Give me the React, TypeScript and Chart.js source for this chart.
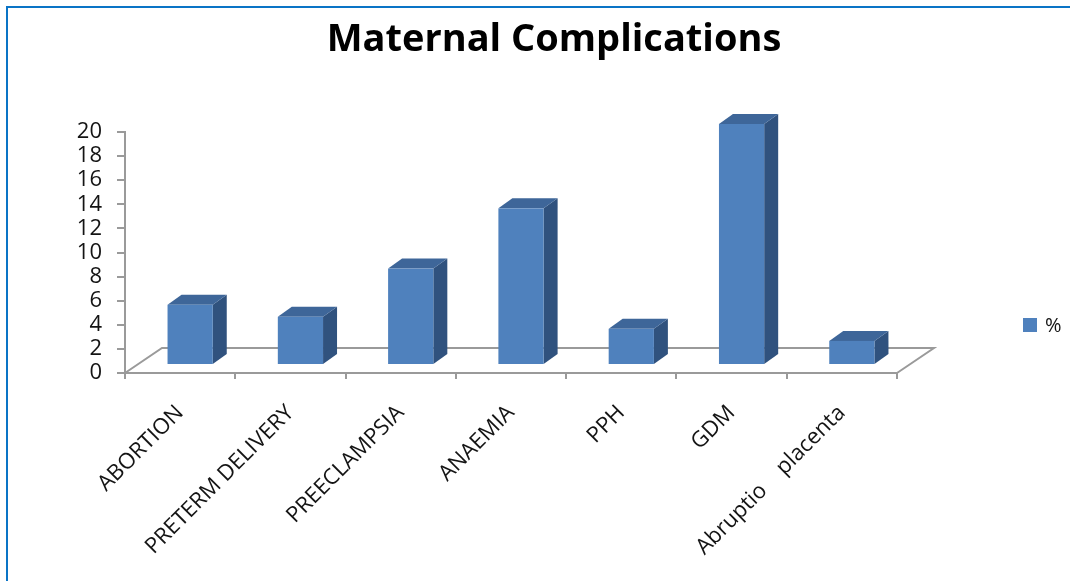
import { useEffect, useRef } from "react";
import { Chart, registerables } from "chart.js";

Chart.register(...registerables);

// ---- data ----
const chartTitle = "Maternal Complications";
const seriesLabel = "%";
const categories = [
  "ABORTION",
  "PRETERM DELIVERY",
  "PREECLAMPSIA",
  "ANAEMIA",
  "PPH",
  "GDM",
  "Abruptio    placenta",
];
const percentValues = [5, 4, 8, 13, 3, 20, 2];
const yMin = 0;
const yMax = 20;
const yStep = 2;

// ---- styling ----
const FONT = "'Open Sans', 'DejaVu Sans', sans-serif";
const BAR_FRONT = "#4f81bd";
const BAR_TOP = "#3e6699";
const BAR_SIDE = "#30527e";
const AXIS_GREY = "#9a9a9a";
const TEXT = "#141414";

// Excel-style 3D look: an open floor parallelogram plus extruded columns
const floor3d = {
  id: "floor3d",
  beforeDatasetsDraw(chart: any) {
    const { ctx, chartArea } = chart;
    const dx = 37;
    const dy = -25;
    const { left, right, bottom } = chartArea;
    ctx.save();
    ctx.strokeStyle = AXIS_GREY;
    ctx.lineWidth = 2;
    ctx.beginPath();
    ctx.moveTo(left, bottom);
    ctx.lineTo(left + dx, bottom + dy);
    ctx.lineTo(right + dx, bottom + dy);
    ctx.lineTo(right, bottom);
    ctx.stroke();
    ctx.restore();
  },
  beforeDatasetDraw() {
    // columns are drawn by afterDatasetsDraw as prisms
    return false;
  },
  afterDatasetsDraw(chart: any) {
    const { ctx } = chart;
    const meta = chart.getDatasetMeta(0);
    const shiftX = 10;
    const shiftY = -8;
    const sideX = 14;
    const sideY = -10;
    ctx.save();
    meta.data.forEach((el: any) => {
      const { x, y, base, width } = el.getProps(["x", "y", "base", "width"], true);
      const x0 = x - width / 2 + shiftX;
      const x1 = x + width / 2 + shiftX;
      const top = y + shiftY;
      const bot = base + shiftY;
      // right side face
      ctx.fillStyle = BAR_SIDE;
      ctx.beginPath();
      ctx.moveTo(x1, top);
      ctx.lineTo(x1 + sideX, top + sideY);
      ctx.lineTo(x1 + sideX, bot + sideY);
      ctx.lineTo(x1, bot);
      ctx.closePath();
      ctx.fill();
      // top face
      ctx.fillStyle = BAR_TOP;
      ctx.beginPath();
      ctx.moveTo(x0, top);
      ctx.lineTo(x0 + sideX, top + sideY);
      ctx.lineTo(x1 + sideX, top + sideY);
      ctx.lineTo(x1, top);
      ctx.closePath();
      ctx.fill();
      // front face
      ctx.fillStyle = BAR_FRONT;
      ctx.fillRect(x0, top, x1 - x0, bot - top);
    });
    ctx.restore();
  },
};

// Legend entry at the right, level with the lower part of the plot
const sideLegend = {
  id: "sideLegend",
  afterDraw(chart: any) {
    const { ctx } = chart;
    const ds = chart.data.datasets[0];
    const bx = 985;
    const cy = 325;
    ctx.save();
    ctx.fillStyle = ds.legendColor;
    ctx.fillRect(bx, cy - 7, 14, 14);
    ctx.fillStyle = TEXT;
    ctx.font = `20px ${FONT}`;
    ctx.textBaseline = "middle";
    ctx.textAlign = "left";
    ctx.fillText(ds.label, bx + 22, cy + 1);
    ctx.restore();
  },
};

export default function App() {
  const canvasRef = useRef<HTMLCanvasElement | null>(null);

  useEffect(() => {
    const canvas = canvasRef.current;
    if (!canvas) return;
    const chart = new Chart(canvas, {
      type: "bar",
      data: {
        labels: categories,
        datasets: [
          {
            label: seriesLabel,
            data: percentValues,
            backgroundColor: BAR_FRONT,
            legendColor: BAR_FRONT,
            barPercentage: 0.41,
            categoryPercentage: 1,
          } as any,
        ],
      },
      options: {
        responsive: false,
        animation: false,
        layout: { padding: 0 },
        plugins: {
          legend: { display: false },
          tooltip: { enabled: false },
          title: {
            display: true,
            text: chartTitle,
            color: "#000",
            font: { family: FONT, size: 38, weight: "bold" },
            padding: { top: 17, bottom: 69.4 },
          },
        },
        scales: {
          x: {
            offset: true,
            grid: {
              display: true,
              drawOnChartArea: false,
              drawTicks: true,
              tickLength: 6,
              offset: true,
              color: AXIS_GREY,
              lineWidth: 2,
            },
            border: { display: true, color: AXIS_GREY, width: 2 },
            ticks: {
              autoSkip: false,
              minRotation: 45,
              maxRotation: 45,
              padding: 21,
              color: TEXT,
              font: { family: FONT, size: 22 },
            },
            afterFit(scale: any) {
              scale.height = 208;
            },
          },
          y: {
            min: yMin,
            max: yMax,
            grid: {
              display: true,
              drawOnChartArea: false,
              drawTicks: true,
              tickLength: 8,
              color: AXIS_GREY,
              lineWidth: 2,
            },
            border: { display: true, color: AXIS_GREY, width: 2 },
            ticks: {
              stepSize: yStep,
              autoSkip: false,
              padding: 15,
              color: TEXT,
              font: { family: FONT, size: 22 },
            },
            afterFit(scale: any) {
              scale.width = 87;
            },
          },
          // empty right-hand band that leaves room for the legend and the floor's depth
          legendBand: {
            type: "linear",
            position: "right",
            display: true,
            grid: { display: false },
            border: { display: false },
            ticks: { display: false },
            afterFit(scale: any) {
              scale.width = 173;
            },
          },
        },
      },
      plugins: [floor3d, sideLegend],
    });
    return () => chart.destroy();
  }, []);

  return (
    <div
      style={{
        position: "absolute",
        left: 0,
        top: 0,
        width: 1070,
        height: 581,
        background: "#fff",
        overflow: "hidden",
      }}
    >
      <div
        style={{
          position: "absolute",
          left: 6,
          top: 6,
          right: 0,
          bottom: 0,
          borderTop: "2.5px solid #0a74c6",
          borderLeft: "2.5px solid #0a74c6",
        }}
      />
      <canvas
        ref={canvasRef}
        width={1032}
        height={581}
        style={{ position: "absolute", left: 38, top: 0, width: 1032, height: 581 }}
      />
    </div>
  );
}
